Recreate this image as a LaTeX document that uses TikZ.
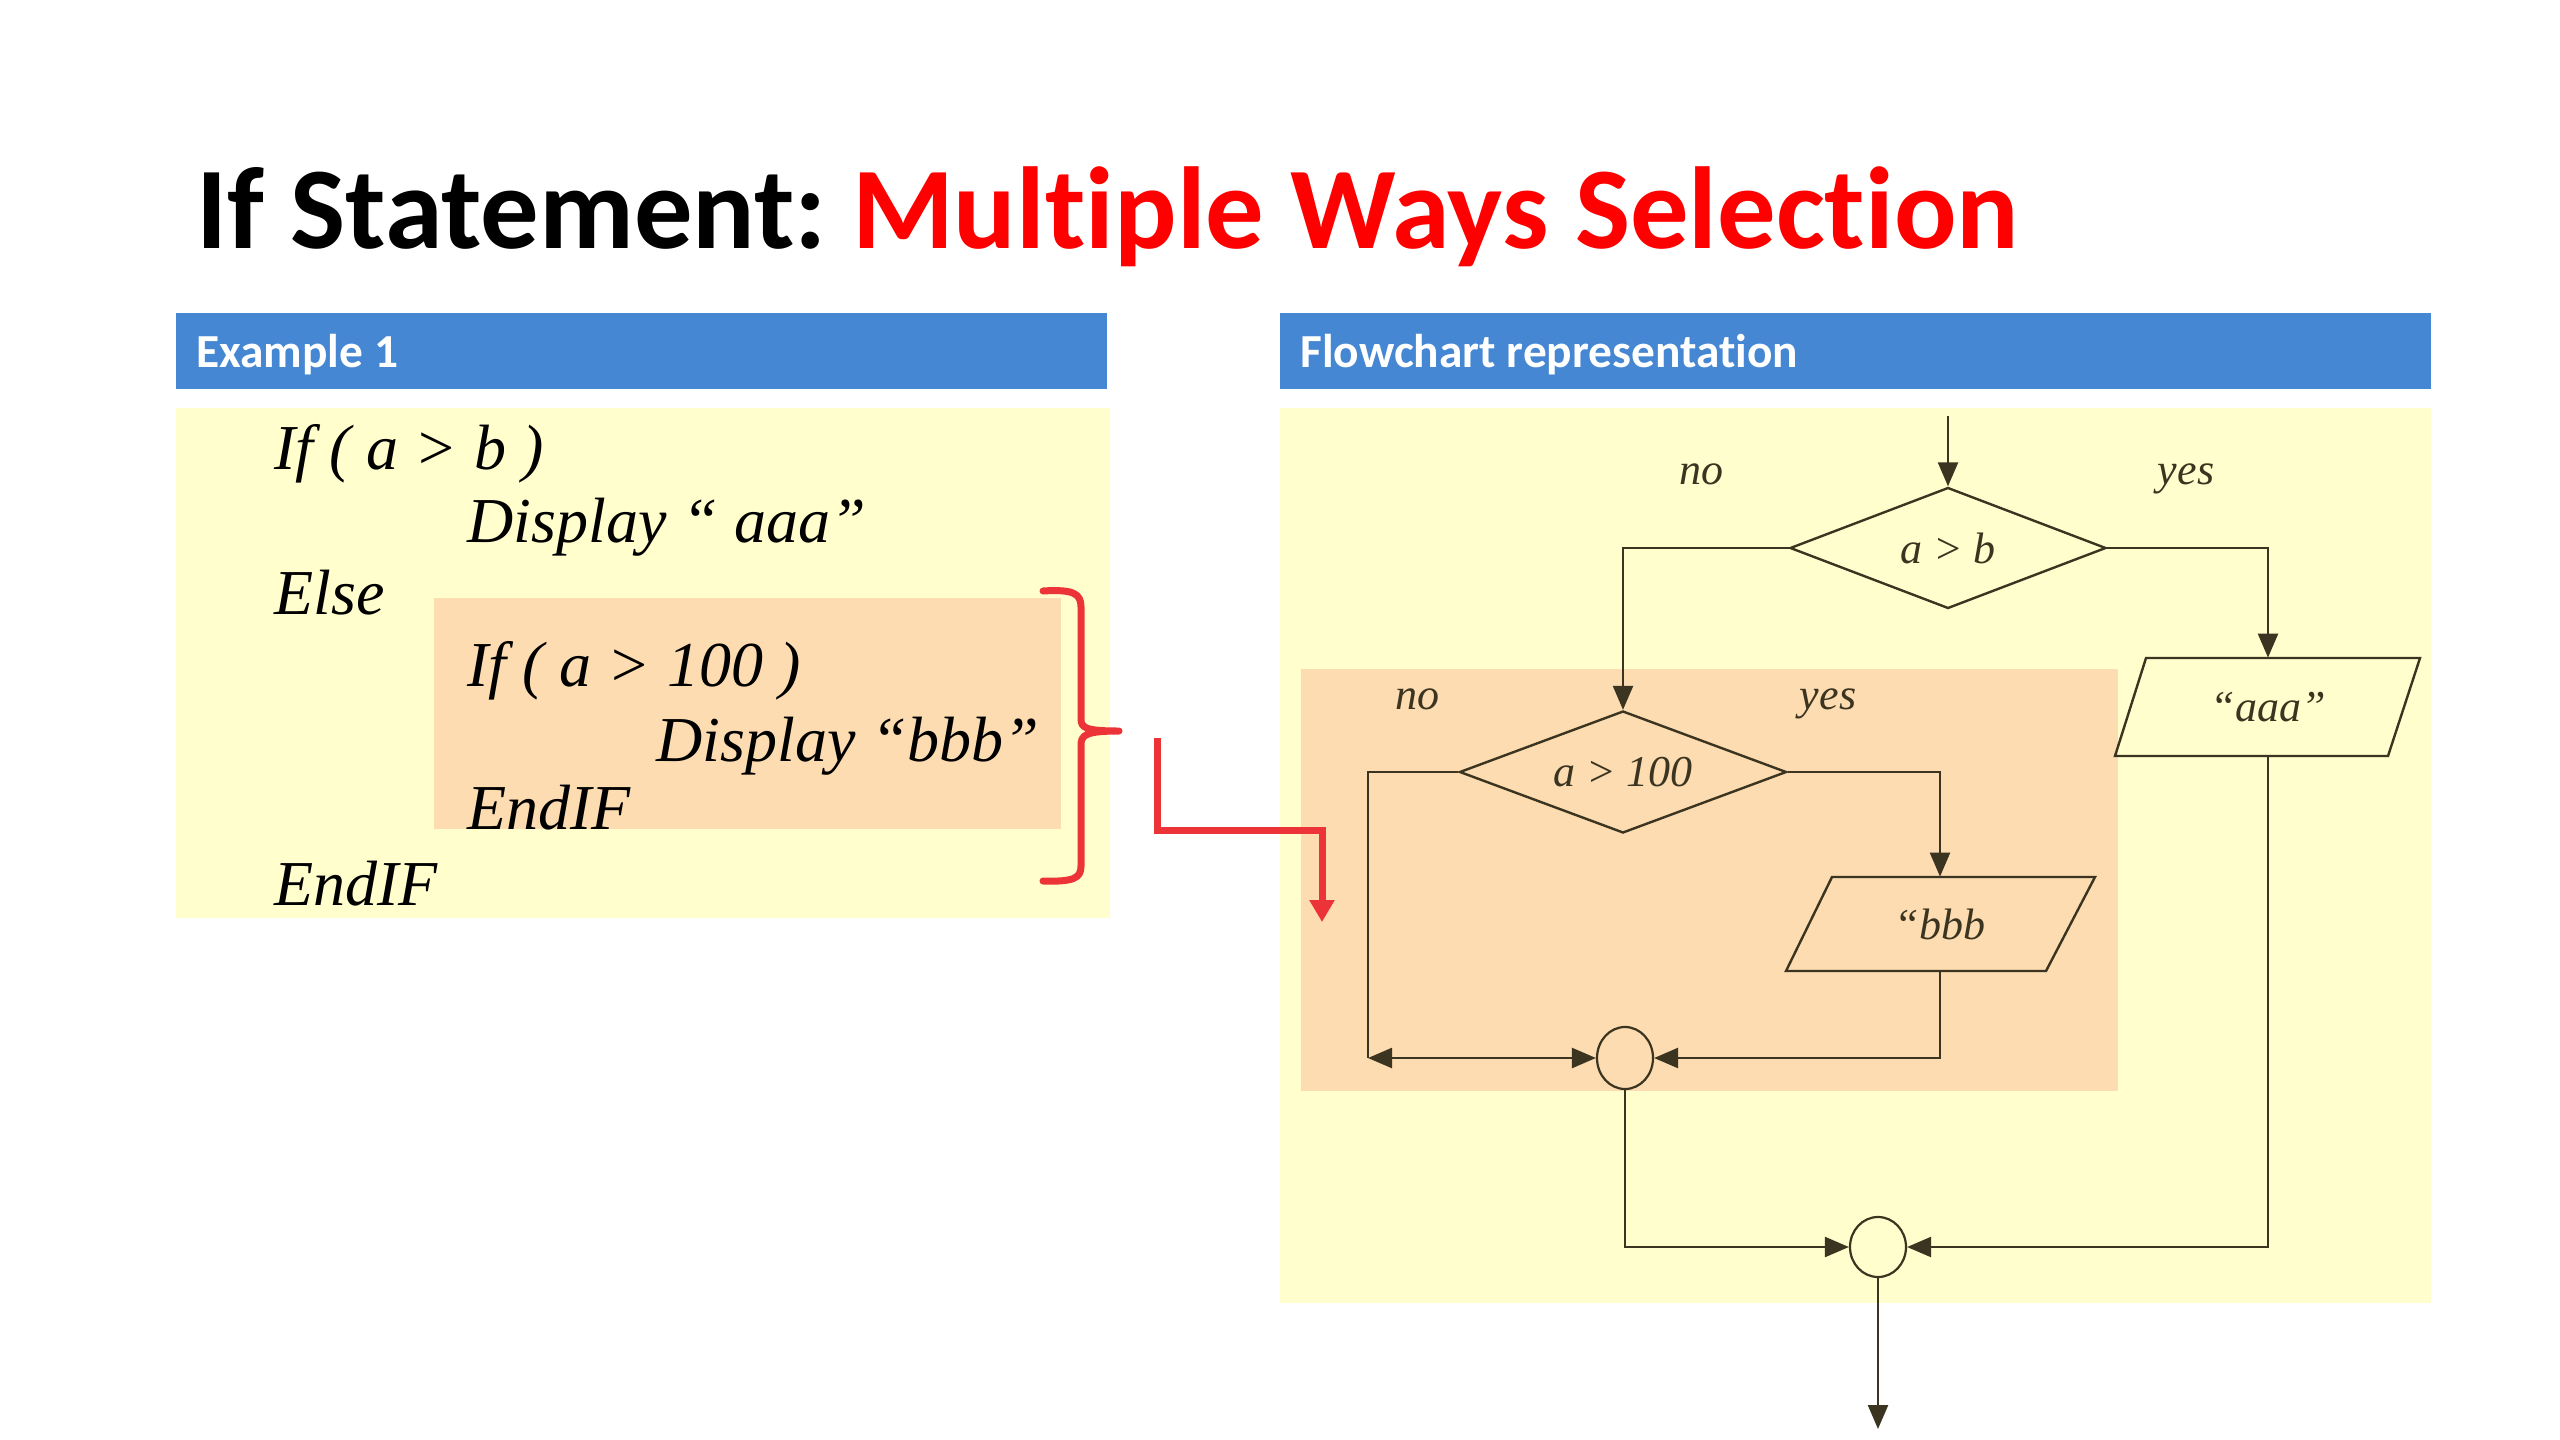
\documentclass[tikz,border=0pt]{standalone}
\usepackage{fontspec}
\setmainfont{Liberation Serif}
\newfontfamily\calib[Ligatures=NoCommon]{Carlito}
\usetikzlibrary{shapes.geometric,arrows.meta}
\definecolor{hdrblue}{HTML}{4687D4}
\definecolor{paneyellow}{HTML}{FFFECC}
\definecolor{peach}{HTML}{FCDCB0}
\definecolor{flowline}{HTML}{3B3420}
\definecolor{titlered}{HTML}{FF0000}
\definecolor{bracketred}{HTML}{EC3338}
\tikzset{
  titletext/.style={anchor=base west, inner sep=0pt, font=\calib\bfseries\fontsize{58.3}{70}\selectfont},
  hdrtext/.style={anchor=base west, inner sep=0pt, text=white, font=\calib\bfseries\fontsize{23.7}{28}\selectfont},
  codetext/.style={anchor=base west, inner sep=0pt, text=black, font=\itshape\fontsize{32}{38}\selectfont},
  flowtext/.style={anchor=base, inner sep=0pt, text=flowline, font=\itshape\fontsize{22}{26}\selectfont},
  decision/.style={diamond, draw=flowline, line width=1.2pt, aspect=2.6, inner sep=0pt, font=\itshape\fontsize{22}{26}\selectfont, text=flowline},
  pgramtext/.style={rectangle, inner sep=0pt, font=\itshape\fontsize{22}{26}\selectfont, text=flowline},
  pgramline/.style={draw=flowline, line width=1.2pt, line join=miter},
  joint/.style={ellipse, draw=flowline, line width=1.1pt, inner sep=0pt},
  flow/.style={draw=flowline, line width=1.2pt},
  arr/.style={flow, -{Triangle[length=12pt,width=10pt]}},
  dblarr/.style={flow, {Triangle[length=12pt,width=10pt]}-{Triangle[length=12pt,width=10pt]}},
  redline/.style={draw=bracketred, line width=3.5pt},
}
\begin{document}
\begin{tikzpicture}[x=0.5pt,y=-0.5pt]
\useasboundingbox (0,0) rectangle (2560,1440);
\fill[white] (0,0) rectangle (2560,1440);

% title
\node[titletext] (title) at (196,248) {If Statement:\hspace{-5pt} \textcolor{titlered}{Multiple Ways Selection}};

% left pane
\fill[hdrblue] (176,313) rectangle (1107,389);
\node[hdrtext] (ex1) at (196,367) {Example 1};
\fill[paneyellow] (176,408) rectangle (1110,918);
\fill[peach] (434,598) rectangle (1061,829);

\node[codetext] (l1) at (274,469) {If ( a > b )};
\node[codetext] (l2) at (467,542) {Display “ aaa”};
\node[codetext] (l3) at (274,614) {Else};
\node[codetext] (l4) at (467,686) {If ( a > 100 )};
\node[codetext] (l5) at (656,761) {Display “bbb”};
\node[codetext] (l6) at (467,829) {EndIF};
\node[codetext] (l7) at (274,905) {EndIF};

% red bracket
\draw[redline, line cap=round, line join=round]
  (1043,591) .. controls (1074,589) and (1081,594) .. (1081,607)
  -- (1081,719) .. controls (1081,728) and (1086,731) .. (1119,731)
  .. controls (1086,731) and (1081,735) .. (1081,745)
  -- (1081,866) .. controls (1081,878) and (1074,882) .. (1043,881);

% right pane
\fill[hdrblue] (1280,313) rectangle (2431,389);
\node[hdrtext] (fc) at (1300,367) {Flowchart representation};
\fill[paneyellow] (1280,408) rectangle (2431,1303);
\fill[peach] (1301,669) rectangle (2118,1091);

% red arrow (over the panes)
\coordinate (rstart) at (1157,738);
\coordinate (rcorner) at (1157,830);
\coordinate (rend) at (1322,922);
\draw[redline, -{Triangle[length=11pt,width=12pt]}] (rstart) -- (rcorner) -| (rend);

% flowchart
\coordinate (start) at (1948,416);
\node[decision, minimum width=158pt, minimum height=60.5pt] (d1) at (1948,548) {a > b};
\node[flowtext] (no1) at (1701,484) {no};
\node[flowtext] (yes1) at (2186,484) {yes};

\draw[pgramline] (2146,658) -- (2420,658) -- (2388,756) -- (2115,756) -- cycle;
\node[pgramtext, minimum width=120pt, minimum height=49pt] (aaa) at (2268,707) {“aaa”};

\node[decision, minimum width=163.5pt, minimum height=61pt] (d2) at (1623,772) {a > 100};
\node[flowtext] (no2) at (1417,709) {no};
\node[flowtext] (yes2) at (1828,709) {yes};

\draw[pgramline] (1832,877) -- (2095,877) -- (2046,971) -- (1786,971) -- cycle;
\node[pgramtext, minimum width=100pt, minimum height=47pt] (bbb) at (1940,924) {“bbb};

\node[joint, minimum width=28pt, minimum height=31pt] (c1) at (1625,1058) {};
\node[joint, minimum width=28pt, minimum height=30pt] (c2) at (1878,1247) {};
\coordinate (lend) at (1368,1058);
\coordinate (finish) at (1878,1429);

\draw[arr] (start) -- (d1.north);
\draw[arr] (d1.west) -| (d2.north);
\draw[arr] (d1.east) -| (aaa.north);
\draw[flow] (d2.west) -| (lend);
\draw[dblarr] (lend) -- (c1.west);
\draw[arr] (d2.east) -| (bbb.north);
\draw[arr] (bbb.south) |- (c1.east);
\draw[arr] (c1.south) |- (c2.west);
\draw[arr] (aaa.south) |- (c2.east);
\draw[arr] (c2.south) -- (finish);
\end{tikzpicture}
\end{document}
